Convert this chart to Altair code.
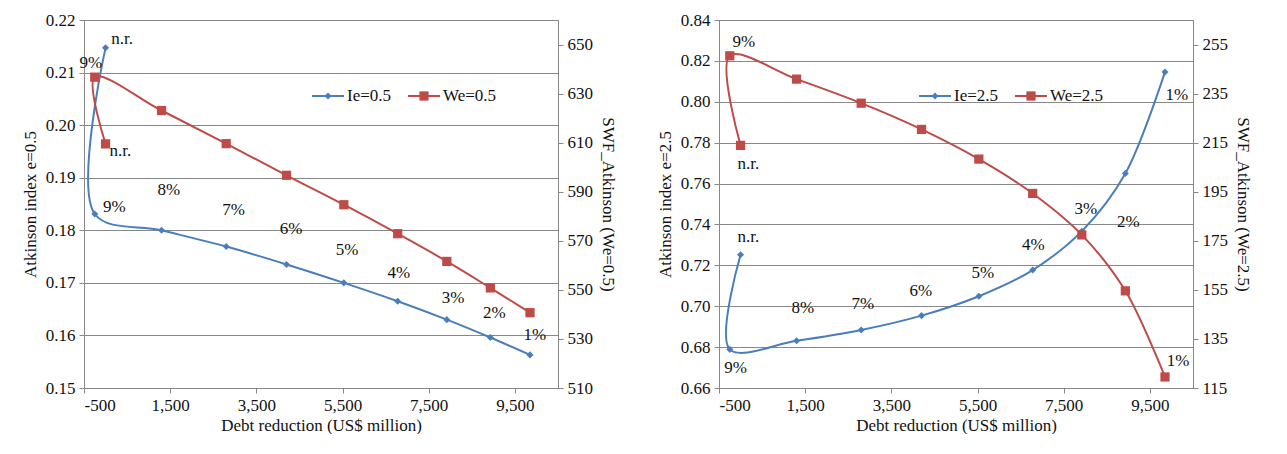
import pandas as pd
import altair as alt

FONT = "Liberation Serif"
BLUE = "#4a7ebb"
RED = "#be4b48"
FS = 17

# debt reduction (US$ million), order: n.r., 9%, 8% ... 1%
x_vals = [0, -250, 1300, 2800, 4200, 5530, 6780, 7920, 8930, 9850]

# left panel (e = 0.5)
ie05 = [0.2147, 0.1831, 0.1800, 0.1769, 0.1735, 0.1700, 0.1665, 0.1630, 0.1596, 0.1563]
we05 = [609.5, 636.7, 623.1, 609.6, 596.7, 584.7, 572.9, 561.6, 550.8, 540.7]
lab05_text = ["n.r.", "9%", "n.r.", "9%", "8%", "7%", "6%", "5%", "4%", "3%", "2%", "1%"]
lab05_x = [383, -344, 344, 204, 1471, 2974, 4307, 5603, 6805, 8063, 9021, 9960]
lab05_y = [0.2163, 0.2118, 0.1950, 0.1845, 0.1877, 0.1839, 0.1803, 0.1762, 0.1718, 0.1672, 0.1642, 0.1600]

# right panel (e = 2.5)
ie25 = [0.7252, 0.6789, 0.6831, 0.6884, 0.6954, 0.7049, 0.7177, 0.7367, 0.7649, 0.8146]
we25 = [213.9, 250.4, 240.9, 231.1, 220.4, 208.3, 194.3, 177.4, 154.6, 119.5]
lab25_text = ["9%", "n.r.", "n.r.", "9%", "8%", "7%", "6%", "5%", "4%", "3%", "2%", "1%", "1%"]
lab25_x = [76, 181, 181, -116, 1448, 2840, 4183, 5623, 6794, 8013, 9002, 10125, 10154]
lab25_y = [0.8293, 0.7698, 0.7338, 0.6700, 0.6993, 0.7011, 0.7075, 0.7162, 0.7298, 0.7477, 0.7413, 0.8031, 0.6731]

x_ticks = [-500, 1500, 3500, 5500, 7500, 9500]


def panel(ie, we, lab_text, lab_x, lab_y, e, ly_dom, ly_ticks, ry_dom, ry_ticks, W, H, lx):
    df = pd.DataFrame({"x": x_vals, "ie": ie, "we": we, "order": range(len(x_vals))})
    labs = pd.DataFrame({"x": lab_x, "y": lab_y, "t": lab_text})
    one = pd.DataFrame({"k": [0]})
    xs = alt.X("x:Q", scale=alt.Scale(domain=[-500, 10500], nice=False),
               axis=alt.Axis(values=x_ticks, title="Debt reduction (US$ million)", grid=False,
                             labelExpr="datum.value < 0 ? '-500' : format(datum.value, ',')"))
    ly = alt.Y("ie:Q", scale=alt.Scale(domain=ly_dom, nice=False, zero=False),
               axis=alt.Axis(values=ly_ticks, format=".2f", title=f"Atkinson index e={e}",
                             grid=True, gridColor="#888", titlePadding=6))
    ry = alt.Y("we:Q", scale=alt.Scale(domain=ry_dom, nice=False, zero=False),
               axis=alt.Axis(values=ry_ticks, format="d", title=f"SWF_Atkinson (We={e})",
                             grid=False, orient="right", titlePadding=6))
    base = alt.Chart(df)
    blue_l = base.mark_line(color=BLUE, strokeWidth=2, interpolate="catmull-rom").encode(
        x=xs, y=ly, order="order:Q")
    blue_p = base.mark_point(shape="diamond", filled=True, color=BLUE, size=50, opacity=1).encode(x=xs, y=ly)
    text = alt.Chart(labs).mark_text(font=FONT, fontSize=FS, color="#111").encode(
        x=alt.X("x:Q"), y=alt.Y("y:Q"), text="t:N")
    red_l = base.mark_line(color=RED, strokeWidth=2, interpolate="catmull-rom").encode(
        x=xs, y=ry, order="order:Q")
    red_p = base.mark_square(color=RED, size=85, opacity=1).encode(x=xs, y=ry)
    # in-plot legend
    ly0 = 76
    leg = [
        alt.Chart(one).mark_rule(color=BLUE, strokeWidth=2).encode(
            x=alt.value(lx), x2=alt.value(lx + 32), y=alt.value(ly0)),
        alt.Chart(one).mark_point(shape="diamond", filled=True, color=BLUE, size=50, opacity=1).encode(
            x=alt.value(lx + 16), y=alt.value(ly0)),
        alt.Chart(one).mark_text(font=FONT, fontSize=FS, align="left", color="#111", text=f"Ie={e}").encode(
            x=alt.value(lx + 35), y=alt.value(ly0)),
        alt.Chart(one).mark_rule(color=RED, strokeWidth=2).encode(
            x=alt.value(lx + 96), x2=alt.value(lx + 128), y=alt.value(ly0)),
        alt.Chart(one).mark_square(color=RED, size=85, opacity=1).encode(
            x=alt.value(lx + 112), y=alt.value(ly0)),
        alt.Chart(one).mark_text(font=FONT, fontSize=FS, align="left", color="#111", text=f"We={e}").encode(
            x=alt.value(lx + 131), y=alt.value(ly0)),
    ]
    left = alt.layer(blue_l, blue_p, text)
    right = alt.layer(red_l, red_p, *leg)
    return alt.layer(left, right).resolve_scale(y="independent").properties(width=W, height=H)


W, H = 474, 368
c1 = panel(ie05, we05, lab05_text, lab05_x, lab05_y, "0.5", [0.15, 0.22],
           [0.15, 0.16, 0.17, 0.18, 0.19, 0.20, 0.21, 0.22], [510, 660],
           [510, 530, 550, 570, 590, 610, 630, 650], W, H, 228)
c2 = panel(ie25, we25, lab25_text, lab25_x, lab25_y, "2.5", [0.66, 0.84],
           [0.66, 0.68, 0.70, 0.72, 0.74, 0.76, 0.78, 0.80, 0.82, 0.84], [115, 265],
           [115, 135, 155, 175, 195, 215, 235, 255], W, H, 200)

chart = alt.hconcat(c1, c2, spacing=38).properties(
    padding={"left": 12, "top": 2, "right": 0, "bottom": 0}
).configure_view(stroke="#888", strokeWidth=1).configure_axis(
    labelFont=FONT, titleFont=FONT, labelFontSize=FS, titleFontSize=FS, titleFontWeight="normal",
    labelColor="#111", titleColor="#111", domainColor="#888", tickColor="#888", labelPadding=4
)

chart.save("out.html", embed_options={"renderer": "svg", "actions": False})
